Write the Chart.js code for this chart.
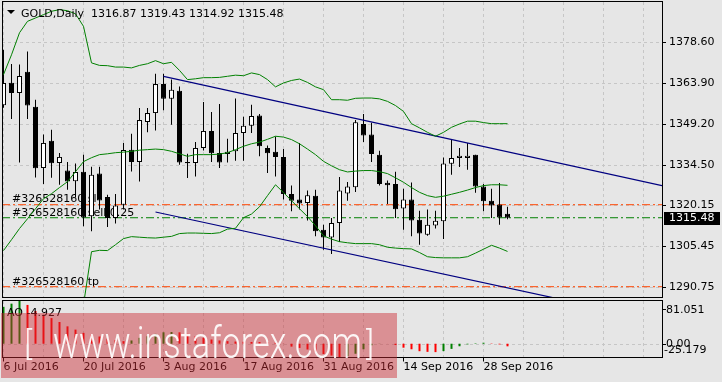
<!DOCTYPE html>
<html><head><meta charset="utf-8">
<script src="https://cdn.jsdelivr.net/npm/chart.js@4.4.1/dist/chart.umd.min.js"></script>
<style>
html,body{margin:0;padding:0;background:#e6e6e6;}
#wrap{position:relative;width:722px;height:382px;overflow:hidden;background:#e6e6e6;}
#c1{position:absolute;left:0;top:0;}
#c2{position:absolute;left:0;top:299px;}
</style></head><body>
<div id="wrap"><canvas id="c1" width="722" height="299"></canvas><canvas id="c2" width="722" height="83"></canvas></div>
<script>
// ---------------- data ----------------
const symbolTitle = "GOLD,Daily  1316.87 1319.43 1314.92 1315.48";
const dateLabels = ["6 Jul 2016","20 Jul 2016","3 Aug 2016","17 Aug 2016","31 Aug 2016","14 Sep 2016","28 Sep 2016"];
const dateLabelIdx = [0,10,20,30,40,50,60];
const priceTicks = [1290.75,1305.45,1320.15,1334.50,1349.20,1363.90,1378.60];

const openP  = [1355.8,1363.9,1360.2,1367.8,1355.3,1333.3,1343.1,1335.1,1332.4,1328.6,1332.0,1316.0,1331.3,1322.9,1315.4,1320.1,
                1339.9,1335.5,1349.8,1353.0,1363.4,1358.1,1361.0,1335.5,1335.1,1340.5,1346.6,1338.7,1338.3,1339.3,1345.9,1348.5,
                1352.1,1340.5,1339.1,1337.3,1324.0,1322.0,1320.8,1323.4,1311.2,1308.4,1313.6,1324.2,1326.4,1349.1,1345.3,1338.1,
                1328.0,1327.6,1318.8,1322.0,1314.8,1309.4,1312.7,1314.2,1334.8,1336.9,1336.9,1338.1,1326.7,1321.6,1320.2,1316.87];
const highP  = [1375.7,1370.6,1370.4,1375.1,1357.8,1345.3,1347.0,1338.7,1335.5,1334.9,1338.1,1333.8,1333.8,1323.7,1324.0,1342.3,
                1345.6,1354.8,1354.8,1367.1,1367.1,1365.0,1362.5,1338.4,1342.6,1357.0,1353.4,1356.3,1343.8,1358.2,1351.7,1356.0,
                1352.7,1341.4,1344.6,1340.1,1327.0,1342.3,1325.2,1325.5,1313.0,1315.4,1330.1,1328.3,1350.5,1352.7,1349.5,1339.5,
                1328.8,1332.0,1325.9,1328.1,1318.0,1318.4,1318.0,1337.1,1343.5,1340.5,1342.3,1338.1,1327.6,1325.9,1327.9,1319.43];
const lowP   = [1354.9,1350.9,1335.3,1350.9,1329.9,1327.6,1329.8,1327.3,1325.5,1322.7,1312.4,1310.6,1318.4,1312.2,1313.4,1318.4,
                1332.1,1328.5,1346.1,1346.8,1354.0,1348.8,1334.5,1329.7,1330.3,1339.6,1335.5,1333.3,1335.3,1335.9,1335.9,1345.9,
                1337.5,1331.5,1330.3,1322.0,1317.8,1318.4,1314.5,1308.8,1304.0,1302.5,1306.8,1321.6,1324.7,1342.6,1335.5,1327.0,
                1320.4,1315.4,1311.2,1308.8,1305.8,1309.0,1311.6,1307.9,1330.9,1333.7,1332.7,1324.4,1317.8,1315.4,1313.0,1314.92];
const closeP = [1363.8,1360.2,1366.3,1355.7,1333.2,1342.3,1335.0,1337.3,1328.5,1331.9,1315.6,1330.9,1321.7,1315.4,1319.9,1339.8,
                1335.5,1350.5,1353.0,1363.4,1358.1,1361.4,1335.3,1335.0,1340.5,1346.6,1338.6,1335.3,1339.1,1345.9,1348.5,1352.0,
                1341.1,1338.6,1337.3,1324.0,1321.6,1320.6,1323.5,1310.6,1308.4,1313.6,1325.2,1326.7,1349.7,1345.0,1338.3,1327.6,
                1327.1,1318.5,1322.0,1314.5,1309.8,1313.0,1314.4,1334.9,1336.9,1337.7,1337.7,1326.7,1321.4,1319.9,1315.6,1315.48];

const bbUpper  = [1366.8,1373.9,1381.8,1385.9,1387.1,1388.3,1389.5,1390.1,1389.7,1388.6,1384.1,1371.0,1370.1,1370.0,1369.5,1369.5,
                  1369.2,1370.1,1370.7,1371.8,1370.7,1371.2,1368.3,1365.0,1365.3,1365.7,1365.7,1365.8,1366.2,1366.6,1366.4,1367.4,
                  1366.8,1365.0,1362.4,1363.8,1364.7,1365.2,1364.0,1362.4,1361.4,1357.8,1357.8,1357.6,1358.3,1358.4,1358.4,1358.1,
                  1357.2,1355.7,1353.6,1349.2,1347.7,1346.1,1344.7,1346.1,1347.9,1349.1,1350.1,1350.1,1349.6,1349.2,1349.2,1349.2];
const bbMiddle = [1303.7,1307.6,1311.6,1315.1,1318.7,1322.3,1324.1,1326.3,1328.4,1332.0,1335.6,1337.0,1338.1,1338.4,1338.8,1339.0,
                  1339.3,1339.7,1339.9,1340.1,1339.9,1339.3,1338.4,1337.5,1338.1,1338.1,1338.1,1338.3,1338.8,1339.9,1341.1,1342.0,
                  1342.6,1343.6,1344.7,1344.4,1343.5,1342.0,1340.1,1338.1,1335.7,1334.1,1332.7,1331.9,1332.2,1332.4,1332.4,1332.0,
                  1331.3,1329.8,1328.2,1326.3,1324.6,1323.4,1322.8,1323.2,1323.9,1324.6,1325.4,1326.3,1327.0,1327.3,1327.3,1327.1];
const bbLower  = [null,null,null,null,null,null,null,null,null,1261.0,1284.3,1303.3,1303.8,1303.7,1305.8,1308.0,
                  1308.7,1308.5,1308.3,1308.2,1308.5,1308.8,1309.8,1310.0,1310.0,1309.9,1309.8,1310.1,1311.4,1311.7,1315.5,1316.8,
                  1319.4,1323.4,1327.3,1324.5,1321.6,1318.7,1315.9,1312.6,1309.0,1307.8,1306.9,1306.5,1306.2,1306.2,1306.2,1305.8,
                  1304.9,1304.6,1304.4,1304.3,1303.0,1301.5,1301.2,1301.1,1301.1,1301.1,1301.5,1302.8,1304.2,1305.6,1304.6,1303.4];

const aoValues = [70.0,76.0,81.05,73.6,62.0,55.0,48.7,41.2,33.0,26.8,20.6,17.4,13.7,9.9,6.8,4.9,
                  6.2,11.2,14.2,18.7,21.7,22.3,21.7,18.7,14.2,11.2,8.0,6.2,4.9,4.2,3.8,3.4,
                  3.2,2.9,1.9,0.2,-5.5,-8.0,-11.0,-15.0,-19.5,-22.5,-25.179,-23.5,-19.0,-10.5,-3.0,0.3,
                  0.1,-2.5,-7.5,-10.5,-14.2,-15.4,-15.9,-14.0,-9.8,-4.8,-1.3,0.8,1.9,0.6,-1.3,-4.927];
const aoMax = 81.051, aoMin = -25.179, aoLast = -4.927;

const channelUpper = [{x:20, y:1366.16},{x:82.3125, y:1327.0}];
const channelLower = [{x:19, y:1317.54},{x:82.3125, y:1278.4}];
const slLevel = 1320.15, tpLevel = 1290.75, entryLevel = 1315.48, bidPrice = 1315.48;
const orderLabel = "#326528160";

// ---------------- view settings ----------------
const X_MIN = -0.1875, X_MAX = 82.3125;
const FONT = '11px "DejaVu Sans"';
const GRID = '#c6c6c6';
const bullColor = '#ffffff', bearColor = '#000000';

function hLine(v){ return [{x:X_MIN, y:v},{x:X_MAX, y:v}]; }

const wickData = lowP.map((l,i)=>({x:i, y:[l, highP[i]]}));
const bodyData = openP.map((o,i)=>({x:i, y:[Math.min(o,closeP[i]), Math.max(o,closeP[i])]}));
const bodyColors = openP.map((o,i)=> closeP[i] >= o ? bullColor : bearColor);

function dashLine(ctx, x1,y1,x2,y2){ ctx.beginPath(); ctx.moveTo(x1,y1); ctx.lineTo(x2,y2); ctx.stroke(); }

const mainPlugin = {
  id:'mt4main',
  beforeDatasetsDraw(chart){
    const {ctx, chartArea:a, scales:{x,y}} = chart;
    ctx.save();
    ctx.strokeStyle = GRID; ctx.lineWidth = 1; ctx.setLineDash([3,3]);
    for (let k=0; k<=X_MAX; k+=5){ const px = Math.floor(x.getPixelForValue(k))+0.5; dashLine(ctx, px, a.top, px, a.bottom); }
    for (const t of priceTicks){ const py = Math.round(y.getPixelForValue(t))+0.5; dashLine(ctx, a.left, py, a.right, py); }
    ctx.setLineDash([]);
    ctx.font = FONT; ctx.fillStyle = '#000'; ctx.textBaseline = 'alphabetic'; ctx.textAlign='left';
    ctx.fillText(orderLabel+" sl", 12, y.getPixelForValue(slLevel)-2.5);
    ctx.fillText(orderLabel+" sell 0.25", 12, y.getPixelForValue(entryLevel)-1.5);
    ctx.fillText(orderLabel+" tp", 12, y.getPixelForValue(tpLevel)-2);
    ctx.restore();
  },
  afterDraw(chart){
    const {ctx, chartArea:a, scales:{y}} = chart;
    ctx.save();
    ctx.strokeStyle='#000'; ctx.lineWidth=1; ctx.setLineDash([]);
    ctx.strokeRect(a.left+0.5, 1.5, a.right-a.left, a.bottom-1);
    for (const t of priceTicks){ const py = Math.round(y.getPixelForValue(t))+0.5; dashLine(ctx, a.right, py, a.right+4, py); }
    ctx.fillStyle='#000'; ctx.font=FONT; ctx.textBaseline='alphabetic';
    ctx.beginPath(); ctx.moveTo(7,10); ctx.lineTo(15,10); ctx.lineTo(11,14); ctx.closePath(); ctx.fill();
    ctx.fillText(symbolTitle, 21, 17);
    const by = y.getPixelForValue(bidPrice);
    ctx.fillStyle='#000'; ctx.fillRect(a.right+2, Math.round(by)-6, 56, 13);
    ctx.fillStyle='#fff'; ctx.textBaseline='middle';
    ctx.fillText(bidPrice.toFixed(2), a.right+7, by+0.5);
    ctx.restore();
  }
};

const aoPlugin = {
  id:'mt4ao',
  beforeDatasetsDraw(chart){
    const {ctx, chartArea:a, scales:{x,y}} = chart;
    ctx.save();
    ctx.strokeStyle = GRID; ctx.lineWidth=1; ctx.setLineDash([3,3]);
    for (let k=0; k<=X_MAX; k+=5){ const px = Math.floor(x.getPixelForValue(k))+0.5; dashLine(ctx, px, a.top, px, a.bottom); }
    const zy = Math.round(y.getPixelForValue(0))+0.5;
    dashLine(ctx, a.left, zy, a.right, zy);
    ctx.restore();
  },
  afterDraw(chart){
    const {ctx, chartArea:a, scales:{x,y}} = chart;
    ctx.save();
    ctx.strokeStyle='#000'; ctx.lineWidth=1; ctx.setLineDash([]);
    ctx.strokeRect(a.left+0.5, 1.5, a.right-a.left, a.bottom-1);
    for (const k of dateLabelIdx){ const px = Math.floor(x.getPixelForValue(k))+0.5; dashLine(ctx, px, a.bottom+0.5, px, a.bottom+4.5); }
    const zy = Math.round(y.getPixelForValue(0))+0.5;
    dashLine(ctx, a.right, zy, a.right+4, zy);
    dashLine(ctx, a.right, 10.5, a.right+4, 10.5);
    ctx.fillStyle='#000'; ctx.font=FONT; ctx.textBaseline='middle'; ctx.textAlign='left';
    ctx.fillText(aoMax.toFixed(3), a.right+4, 11);
    ctx.fillText((0).toFixed(2), a.right+4, zy);
    ctx.fillText(aoMin.toFixed(3), a.right+2, zy+6);
    ctx.textBaseline='alphabetic';
    ctx.fillText("AO "+aoLast.toFixed(3), 7, 17);
    // watermark
    ctx.fillStyle='rgba(205,40,48,0.45)';
    ctx.fillRect(1, 14, 396, 65);
    ctx.fillStyle='rgba(255,255,255,0.92)';
    ctx.font='300 44px Roboto, "Liberation Sans", sans-serif';
    const txt='www.instaforex.com'; const w = ctx.measureText(txt).width;
    ctx.save(); ctx.translate(53, 59); ctx.scale(309/w, 1); ctx.fillText(txt, 0, 0); ctx.restore();
    ctx.font='300 34px Roboto, "Liberation Sans", sans-serif';
    ctx.fillText('[', 24, 56); ctx.fillText(']', 366, 56);
    ctx.restore();
  }
};

const common = {
  responsive:false, animation:false, events:[],
  plugins:{legend:{display:false}, tooltip:{enabled:false}},
  datasets:{bar:{grouped:false, inflateAmount:0}},
};

new Chart(document.getElementById('c1'), {
  type:'line',
  data:{datasets:[
    {type:'bar', label:'body', data:bodyData, backgroundColor:bodyColors, borderColor:'#000', borderWidth:1, borderSkipped:false, barThickness:5, minBarLength:1, order:1},
    {type:'bar', label:'wick', data:wickData, backgroundColor:'#000', borderWidth:0, barThickness:1, order:2},
    {label:'BB upper', data:bbUpper.map((v,i)=>({x:i,y:v})), borderColor:'#008000', borderWidth:1, pointRadius:0, order:0, clip:0},
    {label:'BB middle', data:bbMiddle.map((v,i)=>({x:i,y:v})), borderColor:'#008000', borderWidth:1, pointRadius:0, order:0, clip:0},
    {label:'BB lower', data:bbLower.map((v,i)=>({x:i,y:v})), borderColor:'#008000', borderWidth:1, pointRadius:0, order:0, clip:0},
    {label:'channel upper', data:channelUpper, borderColor:'#000080', borderWidth:1.2, pointRadius:0, order:0, clip:0},
    {label:'channel lower', data:channelLower, borderColor:'#000080', borderWidth:1.2, pointRadius:0, order:0, clip:0},
    {label:'sl', data:hLine(slLevel), borderColor:'#ff4500', borderWidth:1, borderDash:[8,3,2,3], pointRadius:0, order:3, clip:0},
    {label:'entry', data:hLine(entryLevel), borderColor:'#008000', borderWidth:1, borderDash:[8,3,2,3], pointRadius:0, order:3, clip:0},
    {label:'tp', data:hLine(tpLevel), borderColor:'#ff4500', borderWidth:1, borderDash:[8,3,2,3], pointRadius:0, order:3, clip:0}
  ]},
  options:Object.assign({}, common, {
    layout:{padding:{left:2, top:2, right:0, bottom:2}},
    scales:{
      x:{type:'linear', min:X_MIN, max:X_MAX, display:false, offset:false},
      y:{type:'linear', position:'right', min:1287.06, max:1392.83,
         afterBuildTicks:s=>{ s.ticks = priceTicks.map(v=>({value:v})); },
         afterFit:s=>{ s.width = 60; s.paddingTop = 0; s.paddingBottom = 0; },
         grid:{display:false, drawTicks:false, tickLength:0}, border:{display:false},
         ticks:{padding:7, color:'#000', font:{family:'DejaVu Sans', size:11}, autoSkip:false, callback:v=>Number(v).toFixed(2)}}
    }
  }),
  plugins:[mainPlugin]
});

const aoColors = aoValues.map((v,i)=> (i===0 || v > aoValues[i-1]) ? '#008000' : '#ff0000');
new Chart(document.getElementById('c2'), {
  type:'bar',
  data:{datasets:[{label:'AO', data:aoValues.map((v,i)=>({x:i,y:v})), backgroundColor:aoColors, borderWidth:0, barThickness:2}]},
  options:Object.assign({}, common, {
    layout:{padding:{left:2, top:2, right:60, bottom:0}},
    scales:{
      x:{type:'linear', min:X_MIN, max:X_MAX, offset:false, position:'bottom',
         afterBuildTicks:s=>{ s.ticks = dateLabelIdx.map(v=>({value:v})); },
         afterFit:s=>{ s.height = 25; s.paddingLeft = 0; s.paddingRight = 0; },
         grid:{display:false, drawTicks:false, tickLength:0, offset:false}, border:{display:false},
         ticks:{align:'start', padding:4, maxRotation:0, autoSkip:false, color:'#000', font:{family:'DejaVu Sans', size:11},
                callback:v=>{ const j = dateLabelIdx.indexOf(v); return j>=0 ? dateLabels[j] : ''; }}},
      y:{type:'linear', min:aoMin, max:aoMax, display:false}
    }
  }),
  plugins:[aoPlugin]
});
</script>
</body></html>
